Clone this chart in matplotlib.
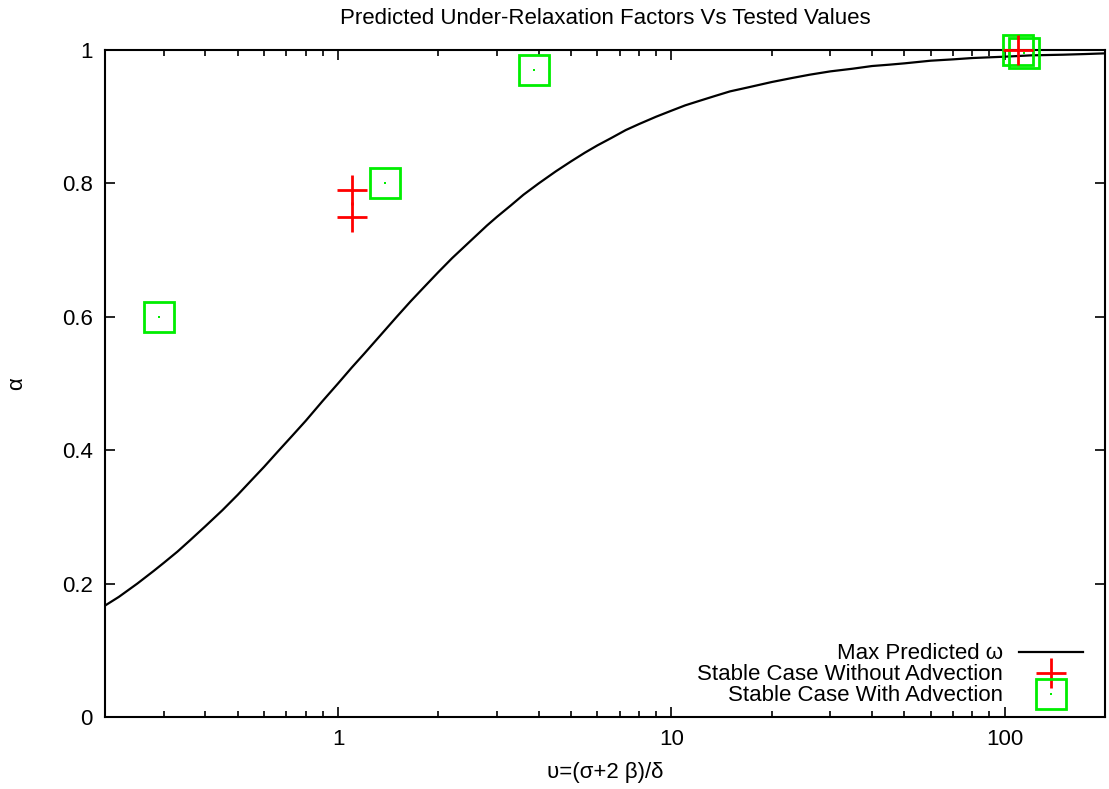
import numpy as np
import matplotlib
matplotlib.use("Agg")
import matplotlib.pyplot as plt
from matplotlib.ticker import LogLocator, FixedLocator, NullFormatter

plt.rcParams['font.family'] = ['Liberation Sans', 'DejaVu Sans']

# predicted curve
curve_x = [0.2, 0.22, 0.25, 0.28, 0.3, 0.33, 0.36, 0.4, 0.45, 0.5, 0.55, 0.6, 0.66,
           0.73, 0.8, 0.9, 1.0, 1.1, 1.2, 1.35, 1.5, 1.65, 1.8, 2.0, 2.2, 2.5,
           2.8, 3.0, 3.3, 3.6, 4.0, 4.5, 5.0, 5.5, 6.0, 6.6, 7.3, 8.0, 9.0, 10.0,
           11.0, 12.0, 13.5, 15.0, 17.0, 20.0, 23.0, 26.0, 30.0, 35.0, 40.0, 45.0,
           50.0, 60.0, 70.0, 80.0, 100.0, 120.0, 150.0, 175.0, 200.0]
curve_y = [0.167, 0.180, 0.200, 0.219, 0.231, 0.248, 0.265, 0.286, 0.310, 0.333,
           0.355, 0.375, 0.398, 0.422, 0.444, 0.474, 0.500, 0.524, 0.545, 0.574,
           0.600, 0.623, 0.643, 0.667, 0.688, 0.714, 0.737, 0.750, 0.767, 0.783,
           0.800, 0.818, 0.833, 0.846, 0.857, 0.868, 0.880, 0.889, 0.900, 0.909,
           0.917, 0.923, 0.931, 0.938, 0.944, 0.952, 0.958, 0.963, 0.968, 0.972,
           0.976, 0.978, 0.980, 0.984, 0.986, 0.988, 0.990, 0.992, 0.993, 0.994,
           0.995]

# tested cases
no_adv_x = [1.1, 1.1, 110]
no_adv_y = [0.79, 0.75, 1.0]
adv_x = [0.29, 1.38, 3.86, 110, 114]
adv_y = [0.60, 0.80, 0.97, 1.0, 0.995]

fs = 16

fig = plt.figure(figsize=(11.09, 7.89), dpi=100)
ax = fig.add_axes([0.0947, 0.0913, 0.9017, 0.8453])

red = '#ff0000'
green = '#00ee00'

ln, = ax.plot(curve_x, curve_y, color='black', lw=1.6)
pl, = ax.plot(no_adv_x, no_adv_y, ls='none', marker='+', ms=22, mew=2,
              color=red, clip_on=False, zorder=4)
sq, = ax.plot(adv_x, adv_y, ls='none', marker='s', ms=21, mew=2,
              mfc='none', mec=green, clip_on=False, zorder=3)
dt, = ax.plot(adv_x, adv_y, ls='none', marker='s', ms=2, mew=0, color=green,
              clip_on=False, zorder=3)

ax.set_xscale('log')
ax.set_xlim(0.2, 200)
ax.set_ylim(0, 1)

ax.xaxis.set_major_locator(FixedLocator([1, 10, 100]))
ax.set_xticklabels(['1', '10', '100'])
ax.xaxis.set_minor_locator(LogLocator(base=10, subs=np.arange(2, 10)))
ax.xaxis.set_minor_formatter(NullFormatter())
ax.set_yticks([0, 0.2, 0.4, 0.6, 0.8, 1.0])
ax.set_yticklabels(['0', '0.2', '0.4', '0.6', '0.8', '1'])

ax.tick_params(which='both', direction='in', top=True, right=True,
               labelsize=fs, width=1.2, pad=9)
ax.tick_params(which='major', length=7)
ax.tick_params(which='minor', length=4)
for s in ax.spines.values():
    s.set_linewidth(1.5)

ax.set_title('Predicted Under-Relaxation Factors Vs Tested Values',
             fontsize=fs, pad=19)
ax.set_xlabel('υ=(σ+2 β)/δ', fontsize=fs, labelpad=8)
ax.set_ylabel('α', fontsize=fs, labelpad=25)

ax.legend([ln, pl, (sq, dt)],
          ['Max Predicted ω', 'Stable Case Without Advection', 'Stable Case With Advection'],
          loc='lower right', frameon=False, markerfirst=False, fontsize=fs,
          handlelength=2.9, handletextpad=0.7, labelspacing=0.0,
          borderaxespad=0.0, borderpad=0.3, bbox_to_anchor=(0.985, 0.006))

fig.savefig('out.png', dpi=100)
